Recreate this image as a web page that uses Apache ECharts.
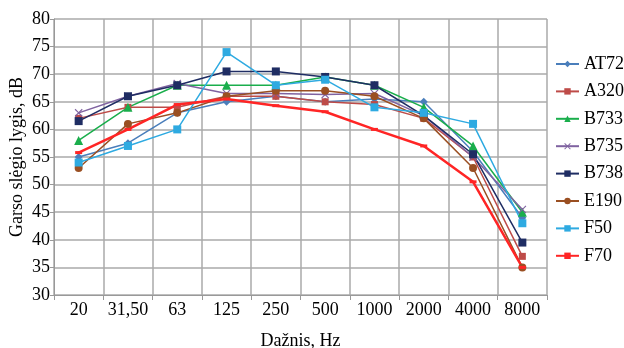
<!DOCTYPE html>
<html><head><meta charset="utf-8">
<script src="https://cdn.jsdelivr.net/npm/echarts@6/dist/echarts.min.js"></script>
<style>html,body{margin:0;padding:0;background:#fff}#c{width:624px;height:348px}</style>
</head><body><div id="c"></div>
<script>
const categories = ['20','31,50','63','125','250','500','1000','2000','4000','8000'];
const AT72 = [55, 57.5, 63, 65, 66, 65, 65.5, 65, 56, 44];
const A320 = [62, 64, 64, 66, 66, 65, 64.5, 62, 55, 37];
const B733 = [58, 64, 68, 68, 68, 69.5, 68, 64, 57, 45];
const B735 = [63, 66, 68.3, 66.5, 66.5, 66.3, 66.5, 62.5, 55, 45.5];
const B738 = [61.5, 66, 68, 70.5, 70.5, 69.5, 68, 62.5, 55.5, 39.5];
const E190 = [53, 61, 63, 66, 67, 67, 66, 62, 53, 35];
const F50 = [54, 57, 60, 74, 68, 69, 64, 63, 61, 43];
const F70 = [55.8, 60, 64.5, 65.5, 64.3, 63.2, 60, 57, 50.5, 35];
const yTicks = {min: 30, max: 80, interval: 5};

const FONT = 'Liberation Serif';
const X_SYM = 'path://M0,1L1,0L5,4L9,0L10,1L6,5L10,9L9,10L5,6L1,10L0,9L4,5Z';
function s(name, data, color, symbol, size, width) {
  return {name, type: 'line', data, symbol, symbolSize: size, showSymbol: true,
    lineStyle: {color, width: width || 1.5}, itemStyle: {color},
    emphasis: {disabled: true}, animation: false};
}
const chart = echarts.init(document.getElementById('c'), null, {renderer: 'canvas'});
chart.setOption({
  animation: false,
  grid: {left: 54, top: 19, right: 77, bottom: 53, containLabel: false, outerBoundsMode: 'none'},
  legend: {
    orient: 'vertical', left: 555, top: 55, padding: 0, itemWidth: 23, itemHeight: 8, itemGap: 9.4,
    textStyle: {fontFamily: FONT, fontSize: 18, color: '#000', lineHeight: 18},
    data: ['AT72','A320','B733','B735','B738','E190','F50','F70']
  },
  xAxis: {
    type: 'category', data: categories, boundaryGap: true,
    name: 'Dažnis, Hz', nameLocation: 'middle', nameGap: 37, nameMoveOverlap: false,
    nameTextStyle: {fontFamily: FONT, fontSize: 18, color: '#000'},
    axisLine: {lineStyle: {color: '#999', width: 1}},
    axisTick: {show: true, alignWithLabel: false, interval: 0, length: 5, lineStyle: {color: '#999'}},
    axisLabel: {fontFamily: FONT, fontSize: 18, color: '#000', margin: 6, interval: 0, hideOverlap: false},
    splitLine: {show: true, interval: 0, lineStyle: {color: '#aaa', width: 1.5}}
  },
  yAxis: {
    type: 'value', min: yTicks.min, max: yTicks.max, interval: yTicks.interval,
    name: 'Garso slėgio lygis, dB', nameLocation: 'middle', nameGap: 28, nameMoveOverlap: false,
    nameTextStyle: {fontFamily: FONT, fontSize: 18, color: '#000'},
    axisLine: {show: true, lineStyle: {color: '#999', width: 1}},
    axisTick: {show: true, length: 4, lineStyle: {color: '#999'}},
    axisLabel: {fontFamily: FONT, fontSize: 18, color: '#000', margin: 4},
    splitLine: {show: true, lineStyle: {color: '#aaa', width: 1.5}}
  },
  series: [
    s('AT72', AT72, '#4a7ebb', 'diamond', 8),
    s('A320', A320, '#be4b48', 'rect', 7),
    s('B733', B733, '#1aae4c', 'triangle', 9),
    s('B735', B735, '#7f62a0', X_SYM, 8),
    s('B738', B738, '#1f2d63', 'rect', 8),
    s('E190', E190, '#9a4f22', 'circle', 8),
    s('F50', F50, '#2eaae1', 'rect', 8),
    s('F70', F70, '#ff2525', 'rect', [7, 3], 2.5)
  ]
});
</script></body></html>
